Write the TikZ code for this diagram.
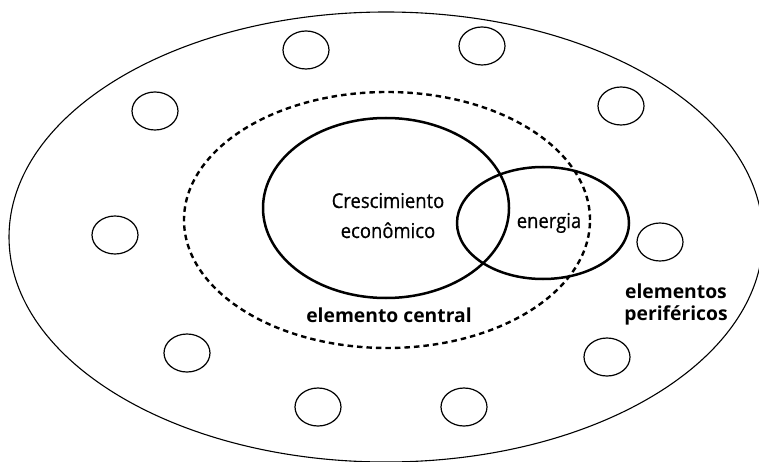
\documentclass[tikz,border=0pt]{standalone}
\usepackage{fontspec}
\setmainfont{Open Sans}
\newfontfamily\narrowfont[FakeStretch=0.9, FakeBold=0.6]{Open Sans}
\usepackage{tikz}

\tikzset{
	outerline/.style={line width=1.1pt},
	smallring/.style={line width=1.2pt},
	heavyring/.style={line width=2.5pt},
	coreline/.style={line width=2.4pt, dash pattern=on 5.5pt off 4pt},
	plainlabel/.style={font=\narrowfont\fontsize{20.5}{24}\selectfont, anchor=base, inner sep=0pt},
	boldlabel/.style={font=\bfseries\fontsize{19.3}{22}\selectfont, anchor=base, inner sep=0pt}
}

\begin{document}
\begin{tikzpicture}[x=1pt, y=-1pt]
	\useasboundingbox (0,0) rectangle (759,462);

	% centres
	\coordinate (O) at (386,237);
	\coordinate (D) at (387,220);
	\coordinate (G) at (386,208);
	\coordinate (E) at (543,223);

	% outer ring
	\draw[outerline] (O) ellipse [x radius=377pt, y radius=225pt];

	% central core
	\draw[coreline] (D) ellipse [x radius=203pt, y radius=128pt];

	% growth and energy
	\draw[heavyring] (G) ellipse [x radius=123pt, y radius=90pt];
	\draw[heavyring] (E) ellipse [x radius=86pt, y radius=56pt];

	% peripheral elements
	\foreach \px/\py in {306/50, 482/46, 155/111, 621/106, 115/235,
		660/242, 187/353, 607/357, 318/407, 464/407}
		\draw[smallring] (\px,\py) ellipse [x radius=23pt, y radius=19pt];

	% labels
	\node[plainlabel] (cresc) at (388,208) {Crescimiento};
	\node[plainlabel] (econ) at (388,238) {econômico};
	\node[plainlabel] (ener) at (549,228) {energia};

	\node[boldlabel] (central) at (389,322) {elemento central};
	\node[boldlabel] (perif1) at (676,298) {elementos};
	\node[boldlabel] (perif2) at (676,320) {periféricos};

\end{tikzpicture}
\end{document}
